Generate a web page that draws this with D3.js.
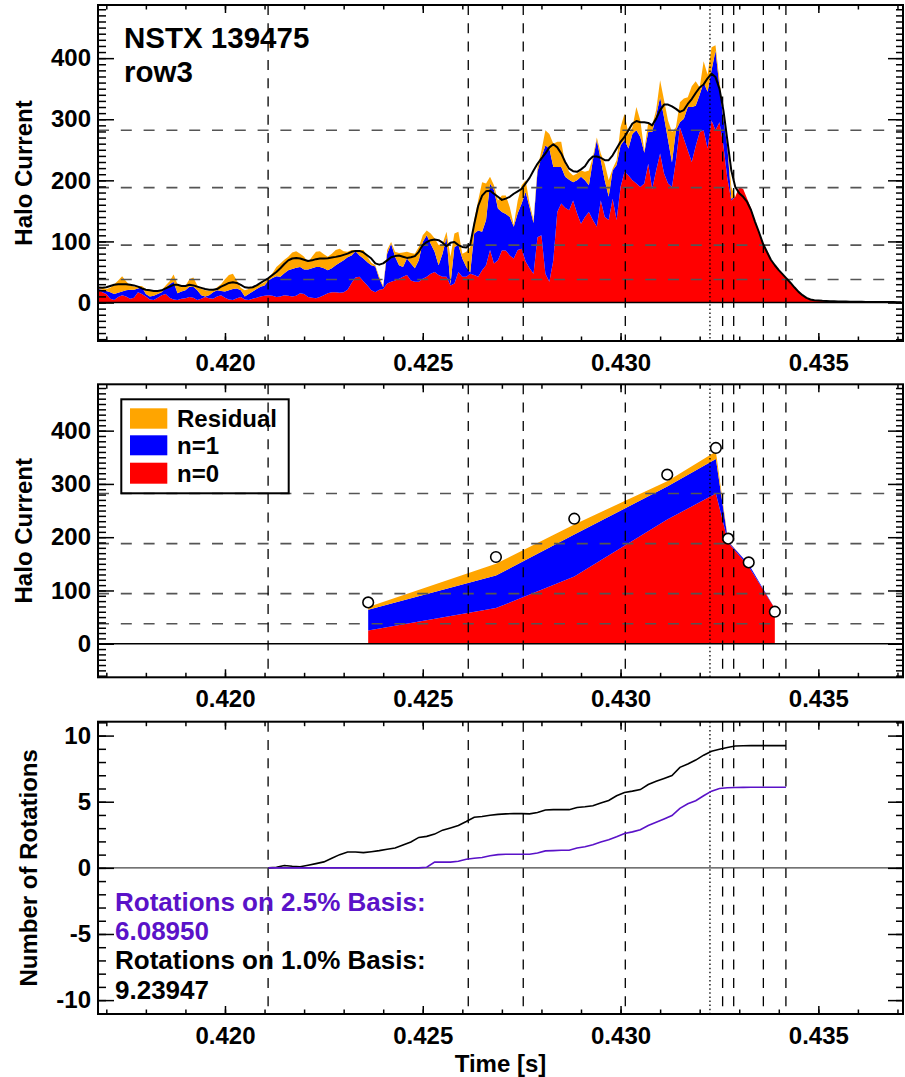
<!DOCTYPE html>
<html><head><meta charset="utf-8">
<script src="https://cdn.jsdelivr.net/npm/d3@7"></script>
<style>
body{margin:0;background:#fff;}
svg text{font-family:"Liberation Sans",Arial,Helvetica,sans-serif;font-weight:bold;}
</style></head><body>
<svg id="c" width="905" height="1077"></svg>
<script>
// ---------------- DATA ----------------
const timeRange = [0.41679, 0.43714];
const xMajor = [0.420, 0.425, 0.430, 0.435];
const xMinor = [0.417,0.418,0.419,0.420,0.421,0.422,0.423,0.424,0.425,0.426,0.427,0.428,0.429,0.430,0.431,0.432,0.433,0.434,0.435,0.436,0.437];
const haloMajor = [0, 100, 200, 300, 400];
const rotMajor = [-10, -5, 0, 5, 10];
const haloDomain = [-63, 487];
const rotDomain = [-11.05, 11.05];

// top panel: halo current decomposition sampled every 0.1 ms from 0.4168 s
const t0 = 0.4168, dt = 0.0001;
const haloN0 = [
20,17,14,6,4,9,12,10,6,8,
17,14,10,5,4,8,12,14,8,5,
4,6,7,9,8,4,6,9,7,6,
10,12,8,5,4,7,9,5,4,6,
8,10,11,12,11,9,10,12,11,10,
11,15,14,9,8,7,9,12,15,17,
17,16,17,21,32,41,42,35,28,20,
17,21,22,31,34,36,39,42,45,36,
34,34,39,42,47,50,45,42,42,28,
31,50,42,42,47,45,42,53,61,86,
64,69,85,85,77,72,86,88,67,56,
47,107,110,47,34,69,148,162,155,151,
167,146,129,140,148,135,124,167,140,135,
170,135,189,214,208,200,195,189,195,227,
186,216,244,211,195,189,233,287,268,249,
230,256,279,282,252,298,282,295,257,203,
167,173,189,186,170,154,132,116,96.5,83,
70,61,53,46,39,32,24.5,17.4,12,7.6,
4.9,3.8,3.3,3,2.7,2.4,2.2,2,1.8,1.6,
1.5,1.4,1.3,1.2,1.1,1,1,0.9,0.9,0.8,
0.8,0.7,0.7,0.6];
const haloN1 = [
2,4,5,11,10,7,6,10,15,13,
6,11,4,5,7,6,5,10,22,29,
11,12,13,17,18,16,6,1,5,11,
10,7,10,15,18,16,11,5,10,12,
14,16,17,24,29,34,32,36,42,45,
46,43,40,45,48,51,49,44,38,39,
44,49,52,53,45,43,35,37,38,41,
42,18,3,49,62,39,22,16,27,28,
22,35,60,68,49,33,16,38,65,2,
60,44,30,16,2,68,76,63,74,109,
120,85,63,60,63,52,60,74,114,100,
83,107,128,210,218,153,74,60,51,50,
30,54,77,60,44,98,142,66,60,38,
46,90,68,52,44,76,87,82,50,52,
93,90,92,92,71,40,49,8,33,71,
90,66,61,78,93,82,130,58,44,52,
3,0,0,0,0,0,0,0,0,0,
0,0,0,0,0,0,0,0,0,0,
0,0,0,0,0,0,0,0,0,0,
0,0,0,0,0,0,0,0,0,0,
0,0,0,0];
const haloRes = [
3,3,3,7,16,20,25,15,7,5,
4,2,8,10,7,4,3,4,5,12,
15,7,7,12,15,8,10,10,7,3,
5,11,20,25,25,13,4,10,8,7,
6,4,5,4,8,15,22,22,22,27,
27,22,21,12,19,25,26,23,22,24,
25,23,15,9,9,2,9,14,9,4,
2,3,2,6,3,8,20,24,11,17,
24,22,11,8,17,22,33,16,9,45,
22,22,8,25,42,22,49,81,60,11,
8,13,27,30,16,3,21,30,19,6,
5,6,11,25,24,38,41,41,21,13,
11,11,10,14,24,5,4,11,27,27,
3,8,30,43,24,11,38,27,3,16,
11,9,28,28,32,50,5,33,33,16,
34,40,12,35,28,38,9,11,3,5,
19,0,0,0,0,0,0,0,0,0,
0,0,0,0,0,0,0,0,0,0,
0,0,0,0,0,0,0,0,0,0,
0,0,0,0,0,0,0,0,0,0,
0,0,0,0];
const haloSmooth = [
24.5,24,25,27,29,30,30,30,29,28,
26,23,21,20,19,19,20,23,26,29,
29,27,27,29,28,26,24,22,21,21,
22,26,29,32,33,32,29,25,24,25,
28,32,36,40,45,50,56,63,69,72,
73,72,70,68,69,71,72,72,72.5,73.6,
74.7,76,78,80,83,84.5,84.5,82,77,72,
64,62,64,69,74,76,77,75,73,74,
76,83,94,99,102,103,102,98,92,98,
99,94,91,90,95,128,158,175,182,183,
178,173,168,170,173,178,182,186,195,204,
216,227,236,244,254,259,254,244,230,219,
215,214,218,223,233,239,239,237,233,233,
241,252,263,271,282,293,297,295,295,294,
290,301,315,324,324,321,317,312,315,325,
333,343,352,357,367,374.5,369,350,314.5,265.5,
216,189,179,173,164.6,151,132,115,96.5,83,
70,61,53,46,39,32,24.5,17.4,12,7.6,
4.9,3.8,3.3,2.8,2.5,2.2,2,1.8,1.6,1.5,
1.4,1.3,1.2,1.1,1,1,0.9,0.9,0.8,0.8,
0.7,0.7,0.6,0.6];

// reference levels (10%, 25%, 50%, 75% of peak) and event times
const refLevels = [37.6, 94, 188, 282];
const eventTimes = [0.42109, 0.42615, 0.42754, 0.43012, 0.43258, 0.43286, 0.43361, 0.43418];
const disruptTime = 0.43226;

// middle panel: fitted decomposition at fit times
const fitTimes = [0.42362, 0.42685, 0.42883, 0.43118, 0.43241, 0.43272, 0.43324, 0.43390];
const fitN0    = [25, 67, 126, 233, 282, 190, 145, 66];
const fitN1    = [39, 61, 79, 62, 65, 2, 4, 0];
const fitRes   = [5, 22, 19, 10, 14, 1, 0, 0];
const measTotal = [77.6, 162.8, 234.7, 317.4, 367.5, 197.2, 152.7, 60.1];

// bottom panel: cumulative rotations every 0.2 ms from 0.4211 s
const rotStart = 0.4211, rotStep = 0.0002, rotEnd = 0.43418;
const rot10 = [
0,0.05,0.18,0.12,0.08,0.2,0.32,0.45,0.72,1.0,
1.2,1.2,1.15,1.22,1.3,1.4,1.5,1.72,1.95,2.3,
2.38,2.55,2.85,3.02,3.2,3.5,3.82,3.88,3.98,4.04,
4.08,4.1,4.1,4.08,4.18,4.37,4.4,4.4,4.4,4.56,
4.62,4.7,4.9,5.1,5.45,5.7,5.8,5.92,6.3,6.55,
6.76,6.98,7.6,7.85,8.15,8.52,8.82,8.97,9.1,9.21,
9.23,9.24,9.24,9.24,9.24,9.24];
const rot25 = [
0,0,0,0,0,0,0,0,0,0,
0,0,0,0,0,0,0,0,0,0,
0.05,0.43,0.43,0.43,0.5,0.65,0.72,0.78,0.92,1.0,
1.03,1.03,1.03,1.03,1.12,1.28,1.3,1.33,1.33,1.5,
1.6,1.75,1.95,2.12,2.35,2.6,2.72,2.88,3.2,3.45,
3.7,3.95,4.5,4.85,5.08,5.45,5.8,6.0,6.06,6.08,
6.085,6.089,6.089,6.089,6.089,6.089];
const rot10Final = 9.23947, rot25Final = 6.08950;

const legendLabels = ["Residual", "n=1", "n=0"];
const titleLines = ["NSTX 139475", "row3"];

// ---------------- DRAWING ----------------
const COL = {res:"#FFA500", n1:"#0000FF", n0:"#FF0000", purple:"#5A12C8"};
const fontFam = '"Liberation Sans", Arial, Helvetica, sans-serif';
const svg = d3.select("#c");
const defs = svg.append("defs");
const L = 98, R = 903;
const panels = [{top:5, bottom:341}, {top:384.3, bottom:677.3}, {top:721.7, bottom:1014}];
const x = d3.scaleLinear().domain(timeRange).range([L, R]);
const y1 = d3.scaleLinear().domain(haloDomain).range([panels[0].bottom, panels[0].top]);
const y2 = d3.scaleLinear().domain(haloDomain).range([panels[1].bottom, panels[1].top]);
const y3 = d3.scaleLinear().domain(rotDomain).range([panels[2].bottom, panels[2].top]);
const haloMinor = d3.range(-60, 481, 10);
const rotMinor = d3.range(-11, 12, 1);

panels.forEach((p, i) => {
  defs.append("clipPath").attr("id", "clip" + i).append("rect")
    .attr("x", L).attr("y", p.top).attr("width", R - L).attr("height", p.bottom - p.top);
});

function styleAxis(sel) {
  sel.select(".domain").remove();
  sel.selectAll(".tick line").attr("stroke", "#000").attr("stroke-width", 1.5);
  sel.selectAll(".tick text").attr("fill", "#000").style("font-size", "24px")
    .style("font-weight", "bold").style("font-family", fontFam);
}
function drawFrame(p, y, majY, minY) {
  const g = svg.append("g");
  const mk = (axis, tx, ty) => g.append("g").attr("transform", `translate(${tx},${ty})`).call(axis).call(styleAxis);
  mk(d3.axisBottom(x).tickValues(xMinor).tickSize(-4.5).tickFormat(""), 0, p.bottom);
  mk(d3.axisBottom(x).tickValues(xMajor).tickSize(-8).tickPadding(13).tickFormat(d3.format(".3f")), 0, p.bottom);
  mk(d3.axisTop(x).tickValues(xMinor).tickSize(-4.5).tickFormat(""), 0, p.top);
  mk(d3.axisTop(x).tickValues(xMajor).tickSize(-8).tickFormat(""), 0, p.top);
  mk(d3.axisLeft(y).tickValues(minY).tickSize(-8).tickFormat(""), L, 0);
  mk(d3.axisLeft(y).tickValues(majY).tickSize(-16).tickPadding(7).tickFormat(d => String(d)), L, 0);
  mk(d3.axisRight(y).tickValues(minY).tickSize(-7).tickFormat(""), R, 0);
  mk(d3.axisRight(y).tickValues(majY).tickSize(-15).tickFormat(""), R, 0);
  g.append("rect").attr("x", L).attr("y", p.top).attr("width", R - L).attr("height", p.bottom - p.top)
    .attr("fill", "none").attr("stroke", "#000").attr("stroke-width", 2);
}
function yTitle(text, cx, p, size) {
  svg.append("text").attr("transform", `translate(${cx},${(p.top + p.bottom) / 2}) rotate(-90)`)
    .attr("text-anchor", "middle").style("font-size", size + "px").attr("fill", "#000").text(text);
}
function refLines(g, y) {
  g.selectAll(null).data(refLevels).join("line")
    .attr("x1", L).attr("x2", R).attr("y1", d => y(d)).attr("y2", d => y(d))
    .attr("stroke", "#555").attr("stroke-width", 1.6).attr("stroke-dasharray", "11,11.8");
}
function eventLines(g, p) {
  g.selectAll(null).data(eventTimes).join("line")
    .attr("x1", d => x(d)).attr("x2", d => x(d)).attr("y1", p.top).attr("y2", p.bottom)
    .attr("stroke", "#000").attr("stroke-width", 1.3).attr("stroke-dasharray", "10,8.3");
  g.append("line").attr("x1", x(disruptTime)).attr("x2", x(disruptTime)).attr("y1", p.top).attr("y2", p.bottom)
    .attr("stroke", "#000").attr("stroke-width", 1.3).attr("stroke-dasharray", "1.5,2.6");
}
function zeroLine(g, y, col, w) {
  g.append("line").attr("x1", L).attr("x2", R).attr("y1", y(0)).attr("y2", y(0))
    .attr("stroke", col).attr("stroke-width", w);
}
const keys = ["n0", "n1", "res"];
const stack = d3.stack().keys(keys);

// ---- Panel 1 ----
{
  const p = panels[0];
  const rows = haloN0.map((v, i) => ({t: t0 + i * dt, n0: v, n1: haloN1[i], res: haloRes[i], k: haloSmooth[i]}));
  const g = svg.append("g").attr("clip-path", "url(#clip0)");
  const area = d3.area().x(d => x(d.data.t)).y0(d => y1(d[0])).y1(d => y1(d[1]));
  g.selectAll(null).data(stack(rows)).join("path").attr("d", area).attr("fill", d => COL[d.key]);
  refLines(g, y1);
  eventLines(g, p);
  zeroLine(g, y1, "#000", 1.5);
  g.append("path").datum(rows).attr("fill", "none").attr("stroke", "#000").attr("stroke-width", 2)
    .attr("stroke-linejoin", "round")
    .attr("d", d3.line().x(d => x(d.t)).y(d => y1(d.k)));
  drawFrame(p, y1, haloMajor, haloMinor);
  yTitle("Halo Current", 31.7, p, 24);
  svg.selectAll(null).data(titleLines).join("text")
    .attr("x", 124).attr("y", (d, i) => 48.3 + i * 33.4).style("font-size", "29.5px").attr("fill", "#000").text(d => d);
}

// ---- Panel 2 ----
{
  const p = panels[1];
  const rows = fitTimes.map((t, i) => ({t, n0: fitN0[i], n1: fitN1[i], res: fitRes[i], m: measTotal[i]}));
  const g = svg.append("g").attr("clip-path", "url(#clip1)");
  const area = d3.area().x(d => x(d.data.t)).y0(d => y2(d[0])).y1(d => y2(d[1]));
  g.selectAll(null).data(stack(rows)).join("path").attr("d", area).attr("fill", d => COL[d.key]);
  refLines(g, y2);
  eventLines(g, p);
  zeroLine(g, y2, "#000", 1.5);
  g.selectAll(null).data(rows).join("circle").attr("cx", d => x(d.t)).attr("cy", d => y2(d.m)).attr("r", 5.3)
    .attr("fill", "#fff").attr("stroke", "#000").attr("stroke-width", 1.6);
  // legend
  const lg = svg.append("g");
  lg.append("rect").attr("x", 121.3).attr("y", 399.3).attr("width", 167.4).attr("height", 94)
    .attr("fill", "none").attr("stroke", "#000").attr("stroke-width", 2);
  const lcol = [COL.res, COL.n1, COL.n0];
  const sw = [[408.3, 20.4], [435.3, 20], [462.7, 21]];
  const base = [426.7, 454, 481.7];
  legendLabels.forEach((lab, i) => {
    lg.append("rect").attr("x", 130).attr("y", sw[i][0]).attr("width", 37.3).attr("height", sw[i][1]).attr("fill", lcol[i]);
    lg.append("text").attr("x", 177).attr("y", base[i]).style("font-size", "24px").attr("fill", "#000").text(lab);
  });
  drawFrame(p, y2, haloMajor, haloMinor);
  yTitle("Halo Current", 31.7, p, 24);
}

// ---- Panel 3 ----
{
  const p = panels[2];
  const rows = rot10.map((v, k) => ({t: rotStart + k * rotStep, a: v, b: rot25[k]}));
  rows.push({t: rotEnd, a: rot10Final, b: rot25Final});
  const g = svg.append("g").attr("clip-path", "url(#clip2)");
  eventLines(g, p);
  zeroLine(g, y3, "#444", 1.3);
  g.append("path").datum(rows).attr("fill", "none").attr("stroke", "#000").attr("stroke-width", 1.6)
    .attr("d", d3.line().x(d => x(d.t)).y(d => y3(d.a)));
  g.append("path").datum(rows).attr("fill", "none").attr("stroke", COL.purple).attr("stroke-width", 1.6)
    .attr("d", d3.line().x(d => x(d.t)).y(d => y3(d.b)));
  drawFrame(p, y3, rotMajor, rotMinor);
  yTitle("Number of Rotations", 36.7, p, 24);
  const fmt = d3.format(".5f");
  const txt = [
    ["Rotations on 2.5% Basis:", COL.purple, 910.7],
    [fmt(rot25Final), COL.purple, 940],
    ["Rotations on 1.0% Basis:", "#000", 969],
    [fmt(rot10Final), "#000", 999]
  ];
  svg.selectAll(null).data(txt).join("text").attr("x", 115).attr("y", d => d[2])
    .style("font-size", "26px").attr("fill", d => d[1]).text(d => d[0]);
  svg.append("text").attr("x", (L + R) / 2).attr("y", 1071.7).attr("text-anchor", "middle")
    .style("font-size", "24px").attr("fill", "#000").text("Time [s]");
}
</script>
</body></html>
